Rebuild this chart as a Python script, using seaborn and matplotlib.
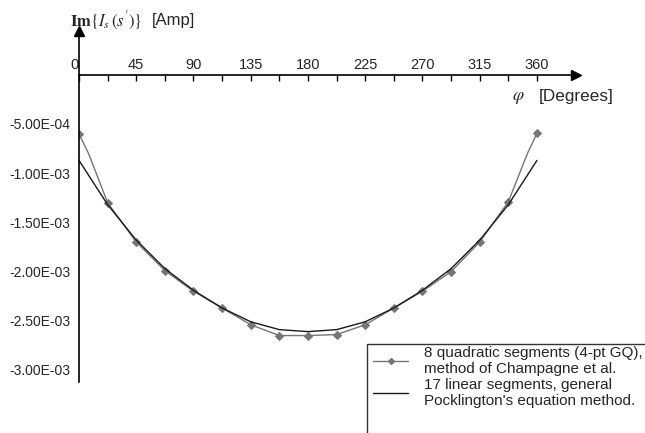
import numpy as np
import matplotlib
matplotlib.use("Agg")
import matplotlib.pyplot as plt
import seaborn as sns
from matplotlib.lines import Line2D
from matplotlib.patches import Rectangle

# 8 quadratic segments (4-pt GQ), Champagne et al.
quad_deg = [0, 7.5, 22.5, 45, 67.5, 90, 112.5, 135, 157.5, 180,
            202.5, 225, 247.5, 270, 292.5, 315, 337.5, 352.5, 360]
quad_im = [-6.0e-4, -8.0e-4, -1.30e-3, -1.70e-3, -1.99e-3, -2.20e-3, -2.37e-3, -2.54e-3, -2.65e-3, -2.65e-3,
           -2.64e-3, -2.54e-3, -2.37e-3, -2.20e-3, -2.00e-3, -1.70e-3, -1.29e-3, -8.0e-4, -5.95e-4]
quad_marks = [0, 2, 3, 4, 5, 6, 7, 8, 9, 10, 11, 12, 13, 14, 15, 16, 18]

# 17 linear segments, general Pocklington's equation
lin_deg = [0, 22.5, 45, 67.5, 90, 112.5, 135, 157.5, 180,
           202.5, 225, 247.5, 270, 292.5, 315, 337.5, 360]
lin_im = [-8.7e-4, -1.32e-3, -1.68e-3, -1.97e-3, -2.19e-3, -2.37e-3, -2.51e-3, -2.59e-3, -2.61e-3,
          -2.59e-3, -2.51e-3, -2.37e-3, -2.19e-3, -1.97e-3, -1.68e-3, -1.32e-3, -8.7e-4]

x_ticks = [0, 45, 90, 135, 180, 225, 270, 315, 360]
y_ticks = [-5e-4, -1e-3, -1.5e-3, -2e-3, -2.5e-3, -3e-3]
y_labels = ["-5.00E-04", "-1.00E-03", "-1.50E-03", "-2.00E-03", "-2.50E-03", "-3.00E-03"]

sns.set_style("white")
plt.rcParams["font.family"] = ["Liberation Sans", "DejaVu Sans"]
plt.rcParams["mathtext.fontset"] = "stix"

fig = plt.figure(figsize=(6.45, 4.33), dpi=100)
ax = fig.add_axes([79 / 645, 1 - 382 / 433, 497.4 / 645, 352 / 433])

gray = "#767676"
sns.lineplot(x=quad_deg, y=quad_im, ax=ax, color=gray, lw=1.0, marker="D", markersize=4.5,
             markevery=quad_marks, markeredgecolor=gray, estimator=None, sort=False)
sns.lineplot(x=lin_deg, y=lin_im, ax=ax, color="#1a1a1a", lw=1.0, estimator=None, sort=False)

ax.set_xlim(0, 391)
ax.set_ylim(-3.122e-3, 4.55e-4)

# axes through the origin, ticks/labels on top of the x axis
for s in ["right", "bottom"]:
    ax.spines[s].set_visible(False)
ax.spines["top"].set_position(("data", 0))
ax.spines["top"].set_color("black")
ax.spines["left"].set_color("black")
ax.spines["top"].set_linewidth(1.2)
ax.spines["left"].set_linewidth(1.2)
ax.xaxis.tick_top()
ax.set_xticks(x_ticks)
ax.set_xticks(np.arange(22.5, 360, 45), minor=True)
labs = ax.set_xticklabels([str(v) for v in x_ticks])
labs[0].set_ha("right")
ax.tick_params(axis="x", which="both", direction="in", length=4, width=1, color="black",
               labelsize=10.5, pad=2)
ax.set_yticks(y_ticks)
ax.set_yticklabels(y_labels)
ax.tick_params(axis="y", direction="out", length=4, width=1, color="black", labelsize=10, pad=2)
ax.set_xlabel("")
ax.set_ylabel("")

# arrow heads
ax.plot([391], [0], marker=">", color="black", markersize=7, clip_on=False)
ax.plot([0], [4.4e-4], marker="^", color="black", markersize=7, clip_on=False)

fig.text(70 / 645, 1 - 21 / 433, r"$\mathbf{Im}\{I_s\,(s')\}$", fontsize=12, va="center")
fig.text(152 / 645, 1 - 20 / 433, "[Amp]", fontsize=12, va="center")
fig.text(512 / 645, 1 - 98 / 433, r"$\varphi$", fontsize=13, va="center")
fig.text(539 / 645, 1 - 97 / 433, "[Degrees]", fontsize=12.3, va="center")

# legend box runs off the right and bottom edges
fig.patches.append(Rectangle((367 / 645, -0.1), 0.5, 0.1 + 1 - 344 / 433, transform=fig.transFigure,
                             facecolor="white", edgecolor="#333333", lw=1.0, zorder=5))
handles = [Line2D([], [], color=gray, lw=1.0, marker="D", markersize=3, markeredgecolor=gray),
           Line2D([], [], color="#1a1a1a", lw=1.0)]
leg = fig.legend(handles, ["8 quadratic segments (4-pt GQ),\nmethod of Champagne et al.",
                           "17 linear segments, general\nPocklington's equation method."],
                 loc="upper left", bbox_to_anchor=(367 / 645, 1 - 340 / 433), fontsize=11,
                 frameon=False, handlelength=2.3,
                 borderpad=0.4, borderaxespad=0, labelspacing=0.1, handletextpad=1.0)
leg.set_zorder(6)

fig.savefig("out.png", dpi=100)
